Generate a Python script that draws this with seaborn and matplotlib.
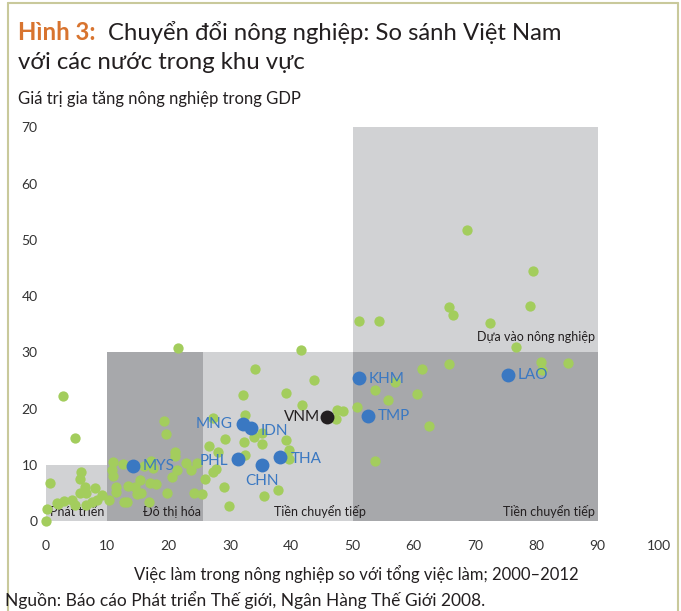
import matplotlib
matplotlib.use("Agg")
import matplotlib.pyplot as plt
from matplotlib.patches import Rectangle
from matplotlib.lines import Line2D
import pandas as pd
import seaborn as sns

# --------------------------------------------
# Data
# --------------------------------------------
# other countries (green dots)
other_x = [0.0, 0.1, 0.7, 2.8, 4.7, 1.8, 3.0, 4.2, 5.7, 5.6, 6.4, 5.5, 6.6, 8.0, 6.5, 8.3, 9.1, 4.8, 7.5, 2.0,
           10.2, 10.7, 11.0, 11.0, 11.5, 11.5, 12.7, 13.2, 13.4, 14.5, 14.8, 15.3, 15.5, 12.6, 16.8, 17.0, 18.0,
           17.2, 17.5, 19.2, 19.5, 21.0, 21.1, 21.3, 20.6, 19.8, 21.6, 22.9, 23.6, 24.2, 24.7, 16.0,
           25.5, 26.0, 27.3, 27.8, 26.6, 27.3, 28.1, 29.2, 29.1, 29.9, 32.2, 32.4, 32.3, 32.5, 34.1, 34.0,
           35.2, 35.3, 35.6, 37.9, 39.1, 39.2, 39.6, 39.7, 41.6, 41.7, 43.8, 47.4, 48.5, 47.3,
           51.1, 54.3, 72.4, 76.6, 80.7, 80.9, 85.1, 61.3, 65.7, 57.0, 53.6, 55.8, 60.6, 50.7, 62.4, 53.7,
           68.6, 79.5, 79.0, 65.7, 66.4]
other_y = [0.0, 2.2, 6.7, 22.3, 14.8, 3.2, 3.5, 3.8, 8.8, 7.4, 6.0, 4.9, 5.0, 5.8, 2.8, 3.7, 4.6, 2.9, 3.3, 3.0,
           3.7, 9.1, 10.5, 8.0, 6.1, 5.1, 3.3, 3.3, 6.2, 6.1, 4.8, 7.3, 5.0, 10.1, 3.4, 6.8, 6.6,
           10.6, 9.5, 17.8, 15.4, 12.3, 11.6, 9.1, 7.9, 4.9, 30.8, 10.3, 9.0, 4.9, 10.3, 9.7,
           4.8, 7.5, 8.8, 9.3, 13.3, 18.3, 12.3, 14.6, 6.1, 2.6, 22.4, 18.9, 14.0, 11.8, 27.0, 15.0,
           15.6, 13.7, 4.5, 5.5, 22.7, 14.4, 12.6, 11.1, 30.5, 20.6, 25.1, 19.8, 19.5, 18.1,
           35.5, 35.6, 35.3, 30.9, 28.2, 26.9, 28.1, 27.0, 27.9, 24.7, 23.3, 21.5, 22.5, 20.2, 16.9, 10.7,
           51.7, 44.5, 38.3, 38.0, 36.7]

# highlighted neighbours (blue dots)
hl_codes = ["MYS", "MNG", "IDN", "PHL", "CHN", "THA", "KHM", "TMP", "LAO"]
hl_x = [14.2, 32.1, 33.5, 31.3, 35.2, 38.1, 51.1, 52.6, 75.4]
hl_y = [9.8, 17.3, 16.5, 11.0, 10.0, 11.3, 25.5, 18.7, 25.9]

# Viet Nam (black dot)
vnm_x = [45.8]
vnm_y = [18.5]

# stages of agricultural transformation (shaded zones)
zone_names = ["Dựa vào nông nghiệp", "Tiền chuyển tiếp", "Tiền chuyển tiếp", "Đô thị hóa", "Phát triển"]
zone_x0 = [50, 50, 25.6, 10, 0]
zone_x1 = [90, 90, 50, 25.6, 10]
zone_top = [70, 30, 30, 30, 10]

x_ticks = [0, 10, 20, 30, 40, 50, 60, 70, 80, 90, 100]
y_ticks = [0, 10, 20, 30, 40, 50, 60, 70]

# --------------------------------------------
# Style
# --------------------------------------------
sns.set_style("white")
plt.rcParams['font.family'] = ['Lato', 'DejaVu Sans']

GREEN = "#a3cd5d"
BLUE = "#3a78c2"
BLACK = "#231f20"
LIGHT = "#d1d2d4"
DARK = "#a7a8ab"
TEXT = "#231f20"

W, H = 681, 611
fig = plt.figure(figsize=(W / 100, H / 100), dpi=100)
ax = fig.add_axes([46 / W, 1 - 521 / H, (659 - 46) / W, (521 - 127.4) / H])

# shaded zones
zone_shade = [LIGHT, DARK, LIGHT, DARK, LIGHT]
for x0, x1, top, c in zip(zone_x0, zone_x1, zone_top, zone_shade):
    ax.add_patch(Rectangle((x0, 0), x1 - x0, top, facecolor=c, edgecolor="none", zorder=0))

# zone labels
zfs = 9
ax.text(89.6, 31.6, zone_names[0], ha="right", va="bottom", fontsize=zfs, color=TEXT, zorder=5)
ax.text(89.6, 0.6, zone_names[1], ha="right", va="bottom", fontsize=zfs, color=TEXT)
ax.text(52.2, 0.6, zone_names[2], ha="right", va="bottom", fontsize=zfs, color=TEXT)
ax.text(25.3, 0.6, zone_names[3], ha="right", va="bottom", fontsize=zfs, color=TEXT)
ax.text(0.6, 0.6, zone_names[4], ha="left", va="bottom", fontsize=zfs, color=TEXT)

# dots
others = pd.DataFrame({"x": other_x, "y": other_y})
hl = pd.DataFrame({"code": hl_codes, "x": hl_x, "y": hl_y})
vnm = pd.DataFrame({"x": vnm_x, "y": vnm_y})

sns.scatterplot(data=others, x="x", y="y", color=GREEN, s=55, linewidth=0, ax=ax, zorder=3, clip_on=False)
sns.scatterplot(data=hl, x="x", y="y", color=BLUE, s=100, linewidth=0, ax=ax, zorder=4, clip_on=False)
sns.scatterplot(data=vnm, x="x", y="y", color=BLACK, s=100, linewidth=0, ax=ax, zorder=4, clip_on=False)

# country labels (offsets in points)
label_pos = {
    "MYS": (7, 0, "left"), "MNG": (-7, 0, "right"), "IDN": (7, -2, "left"),
    "PHL": (-7, -1, "right"), "CHN": (0, -12, "center"), "THA": (8, -1, "left"),
    "KHM": (7, -1, "left"), "TMP": (7, 0, "left"), "LAO": (7, 0, "left"),
}
for code, x, y in zip(hl_codes, hl_x, hl_y):
    dx, dy, ha = label_pos[code]
    ax.annotate(code, (x, y), xytext=(dx, dy), textcoords="offset points",
                ha=ha, va="center", fontsize=11, color=BLUE, zorder=5)
ax.annotate("VNM", (vnm_x[0], vnm_y[0]), xytext=(-5, 0), textcoords="offset points",
            ha="right", va="center", fontsize=11, color=BLACK, zorder=5)

# axes
ax.set_xlim(0, 100)
ax.set_ylim(0, 70)
ax.set_xticks(x_ticks)
ax.set_yticks(y_ticks)
ax.tick_params(axis="both", length=0, labelsize=10, labelcolor="#333333")
ax.tick_params(axis="x", pad=14)
ax.tick_params(axis="y", pad=6)
ax.set_xlabel("")
ax.set_ylabel("")
sns.despine(ax=ax, left=True, bottom=True)

# titles and notes
fig.text(18 / W, 1 - 40 / H, "Hình 3:", fontsize=17.2, fontweight="bold", color="#d8742f", va="baseline")
fig.text(108 / W, 1 - 40 / H, "Chuyển đổi nông nghiệp: So sánh Việt Nam", fontsize=17.2, color=TEXT, va="baseline")
fig.text(18 / W, 1 - 69 / H, "với các nước trong khu vực", fontsize=17.2, color=TEXT, va="baseline")
fig.text(18 / W, 1 - 104 / H, "Giá trị gia tăng nông nghiệp trong GDP", fontsize=12, color=TEXT, va="baseline")
fig.text(356 / W, 1 - 580 / H, "Việc làm trong nông nghiệp so với tổng việc làm; 2000–2012",
         fontsize=12, color=TEXT, ha="center", va="baseline")
fig.text(5 / W, 1 - 606 / H, "Nguồn: Báo cáo Phát triển Thế giới, Ngân Hàng Thế Giới 2008.",
         fontsize=12.5, color=TEXT, va="baseline")

# frame around the figure box
FRAME = "#c9c99b"
fig.add_artist(Line2D([8 / W, 8 / W], [0, 1 - 3 / H], color=FRAME, lw=1.5))
fig.add_artist(Line2D([8 / W, 678 / W], [1 - 3 / H, 1 - 3 / H], color=FRAME, lw=1.5))
fig.add_artist(Line2D([678 / W, 678 / W], [0, 1 - 3 / H], color=FRAME, lw=1.5))

fig.savefig("out.png", dpi=100)
